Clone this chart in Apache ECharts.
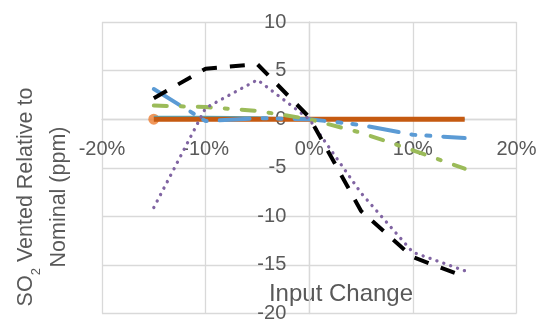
<!DOCTYPE html>
<html>
<head>
<meta charset="utf-8">
<script src="https://cdn.jsdelivr.net/npm/echarts@6/dist/echarts.min.js"></script>
<style>html,body{margin:0;padding:0;background:#fff}#c{width:544px;height:329px}</style>
</head>
<body>
<div id="c"></div>
<script>
// Input change (%)
const inputChange = [-15, -10, -5, 0, 5, 10, 15];
// SO2 vented relative to nominal (ppm)
const seriesBlack  = [2.15, 5.2, 5.65, 0.2, -9.45, -14.2, -16.2];
const seriesPurple = [-9.1, 1.15, 4.05, 0, -7.6, -13.7, -15.6];
const seriesBlue   = [3.1, -0.2, 0.1, 0, -0.6, -1.6, -1.95];
const seriesGreen  = [1.4, 1.25, 0.85, 0, -1.4, -3.2, -5.1];
const seriesBrown  = [0, 0, 0, 0, 0, 0, 0];
const seriesTeal   = [0.25, 0.25, 0.2, 0, 0, 0, 0];
const seriesOrange = [0];           // single marker at first input
const xTickLabels = ['-20%', '-10%', '0%', '10%', '20%'];
const yTickLabels = ['-20', '-15', '-10', '-5', '0', '5', '10'];
const xTitle = 'Input Change';

function pairs(xs, ys) { return ys.map((v, i) => [xs[i], v]); }

const W = 544, H = 329;
const G = {left: 102, right: 27.5, top: 22, bottom: 15.5};
const gridW = W - G.left - G.right, gridH = H - G.top - G.bottom;
// axes cross at zero: x range symmetric (-20..20), y range -20..10
const yAxisOffset = -gridW * (0 - (-20)) / 40;
const xAxisOffset = -gridH * (10 - 0) / 30;

const FONT = 'Liberation Sans';
const GREY = '#595959';
const chart = echarts.init(document.getElementById('c'), null, {renderer: 'canvas'});
chart.setOption({
  animation: false,
  grid: Object.assign({containLabel: false, outerBoundsMode: 'none'}, G),
  xAxis: {
    type: 'value', min: -20, max: 20, interval: 10,
    position: 'top', offset: xAxisOffset,
    axisLine: {show: true, onZero: true, lineStyle: {color: '#D9D9D9', width: 1.3}},
    axisTick: {show: false},
    splitLine: {lineStyle: {color: '#D9D9D9', width: 1.3}},
    axisLabel: {
      inside: true, margin: 20, color: GREY, fontFamily: FONT, fontSize: 20,
      formatter: v => xTickLabels[Math.round((v + 20) / 10)]
    }
  },
  yAxis: {
    type: 'value', min: -20, max: 10, interval: 5,
    position: 'left', offset: yAxisOffset,
    axisLine: {show: true, onZero: true, lineStyle: {color: '#D9D9D9', width: 1.3}},
    axisTick: {show: false},
    splitLine: {lineStyle: {color: '#D9D9D9', width: 1.3}},
    axisLabel: {
      margin: 23, color: GREY, fontFamily: FONT, fontSize: 20,
      formatter: v => yTickLabels[Math.round((v + 20) / 5)]
    }
  },
  series: [
    {type: 'line', data: pairs(inputChange, seriesTeal), symbol: 'none',
     lineStyle: {color: '#4BACC6', width: 2}},
    {type: 'scatter', data: pairs(inputChange, seriesOrange), symbol: 'circle', symbolSize: 11,
     itemStyle: {color: '#ED7D31'}},
    {type: 'line', data: pairs(inputChange, seriesBrown), symbol: 'none',
     lineStyle: {color: '#C55A11', width: 5}},
    {type: 'line', data: pairs(inputChange, seriesBlue), symbol: 'none',
     lineStyle: {color: '#5B9BD5', width: 4, type: [30, 13, 4, 11, 4, 13], cap: 'round'}},
    {type: 'line', data: pairs(inputChange, seriesGreen), symbol: 'none',
     lineStyle: {color: '#9BBB59', width: 4, type: [13, 14, 3, 14], cap: 'round'}},
    {type: 'line', data: pairs(inputChange, seriesPurple), symbol: 'none',
     lineStyle: {color: '#8064A2', width: 3.3, type: [0.1, 7.2], cap: 'round'}},
    {type: 'line', data: pairs(inputChange, seriesBlack), symbol: 'none',
     lineStyle: {color: '#000000', width: 4, type: [15, 13], cap: 'butt'}}
  ],
  graphic: [
    {type: 'text', x: 341, y: 294, silent: true,
     style: {text: xTitle, fill: GREY, font: '24px "' + FONT + '"', align: 'center', verticalAlign: 'middle'}},
    {type: 'text', x: 42.5, y: 197, rotation: Math.PI / 2, silent: true,
     style: {
       text: '{a|SO}{s|2}{a| Vented Relative to}\n{a|Nominal (ppm)}',
       align: 'center', verticalAlign: 'middle', fill: GREY,
       rich: {
         a: {fontFamily: FONT, fontSize: 21.5, lineHeight: 33, fill: GREY},
         s: {fontFamily: FONT, fontSize: 13, lineHeight: 22, verticalAlign: 'bottom', fill: GREY}
       }
     }}
  ]
});
</script>
</body>
</html>
